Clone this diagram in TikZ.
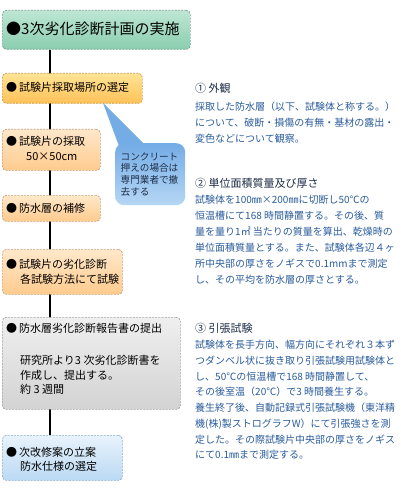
\documentclass[tikz,border=0pt]{standalone}
\usepackage{fontspec}
\setmainfont{Noto Sans CJK JP}
\usetikzlibrary{backgrounds}
\definecolor{gT}{HTML}{BEE7D3}
\definecolor{gB}{HTML}{8ACDAF}
\definecolor{gD}{HTML}{7AA594}
\definecolor{yT}{HTML}{FFE394}
\definecolor{yB}{HTML}{FFC258}
\definecolor{yD}{HTML}{C79E4E}
\definecolor{pT}{HTML}{FFE8CA}
\definecolor{pB}{HTML}{FFCB8E}
\definecolor{pD}{HTML}{C6A07A}
\definecolor{sT}{HTML}{EFEFEF}
\definecolor{sB}{HTML}{D3D3D3}
\definecolor{sD}{HTML}{A2A2A2}
\definecolor{bT}{HTML}{E8F3FC}
\definecolor{bB}{HTML}{BAD9F3}
\definecolor{bD}{HTML}{8EAAC8}
\definecolor{cT}{HTML}{74ACE6}
\definecolor{cB}{HTML}{B6D7F4}
\definecolor{hd}{HTML}{1E2E48}
\definecolor{bd}{HTML}{2B5C9C}
\begin{document}
\begin{tikzpicture}[x=1bp,y=-1bp,
  box/.style={draw=#1, dash pattern=on 2bp off 1.2bp, line width=0.7bp,
    rounded corners=4bp, anchor=north west, inner sep=0pt},
  lt/.style={anchor=base west, inner sep=0pt, font=\fontsize{11bp}{13bp}\selectfont},
  ct/.style={anchor=base west, inner sep=0pt, text=hd, font=\fontsize{9.6bp}{11bp}\selectfont},
  rh/.style={anchor=base west, inner sep=0pt, text=hd, font=\fontsize{11bp}{13bp}\selectfont},
  rb/.style={anchor=base west, inner sep=0pt, text=bd, font=\fontsize{10bp}{12bp}\selectfont}]
\useasboundingbox (0,0) rectangle (400,490);

% boxes
\node[box=gD, top color=gT, bottom color=gB, minimum width=188bp, minimum height=39bp] (t) at (2,10) {};
\node[box=yD, top color=yT, bottom color=yB, minimum width=140bp, minimum height=30bp] (b1) at (2,73) {};
\node[box=pD, top color=pT, bottom color=pB, minimum width=98bp, minimum height=41bp] (b2) at (2,129) {};
\node[box=pD, top color=pT, bottom color=pB, minimum width=98bp, minimum height=26bp] (b3) at (2,195) {};
\node[box=pD, top color=pT, bottom color=pB, minimum width=120bp, minimum height=45bp] (b4) at (2,249) {};
\node[box=sD, top color=sT, bottom color=sB, minimum width=178bp, minimum height=92bp] (b5) at (2,317) {};
\node[box=bD, top color=bT, bottom color=bB, minimum width=120bp, minimum height=45bp] (b6) at (2,435) {};

% background and vertical connector
\coordinate (lx) at (50,0);
\begin{scope}[on background layer]
\fill[white] (0,0) rectangle (400,490);
\draw[line width=2bp] (t.south -| lx) -- (b6.north -| lx);
\end{scope}

% callout
\fill[cT] (103,103) -- (119,146) -- (146,146) -- cycle;
\node[anchor=north west, inner sep=0pt, rounded corners=9bp, top color=cT, bottom color=cB,
  minimum width=70bp, minimum height=62bp] (c) at (115,143) {};
\node[ct] (c1) at (120.5,160.1) {コンクリート};
\node[ct] (c2) at (120.5,171.7) {押えの場合は};
\node[ct] (c3) at (120.5,183.4) {専門業者で撤};
\node[ct] (c4) at (120.5,195.1) {去する};

% left texts
\node[anchor=base west, inner sep=0pt, font=\fontsize{15bp}{17bp}\selectfont] (tt) at (6,35) {●3次劣化診断計画の実施};
\node[lt] (l1) at (6,92) {●\,試験片採取場所の選定};
\node[lt] (l2) at (6,146) {●\,試験片の採取};
\node[lt] (l2b) at (26,161) {50×50cm};
\node[lt] (l3) at (6,212) {●\,防水層の補修};
\node[lt] (l4) at (6,268) {●\,試験片の劣化診断};
\node[lt] (l4b) at (20,283) {各試験方法にて試験};
\node[lt] (l5) at (6,332) {●\,防水層劣化診断報告書の提出};
\node[lt] (l5a) at (20,364) {研究所より3 次劣化診断書を};
\node[lt] (l5b) at (20,379) {作成し、提出する。};
\node[lt] (l5c) at (20,393) {約 3 週間};
\node[lt] (l6) at (6,456) {●\,次改修案の立案};
\node[lt] (l6b) at (20,470) {防水仕様の選定};

% right column
\node[rh] (h1) at (195,92.5) {① 外観};
\foreach \s [count=\i] in {{採取した防水層（以下、試験体と称する。）},
  {について、破断・損傷の有無・基材の露出・},
  {変色などについて観察。}}
  \node[rb] (r1-\i) at (195,{94.5+16*\i}) {\s};
\node[rh] (h2) at (195,187.5) {② 単位面積質量及び厚さ};
\foreach \s [count=\i] in {{試験体を100㎜×200㎜に切断し50℃の},
  {恒温槽にて168 時間静置する。その後、質},
  {量を量り1㎡ 当たりの質量を算出、乾燥時の},
  {単位面積質量とする。また、試験体各辺４ヶ},
  {所中央部の厚さをノギスで0.1mmまで測定},
  {し、その平均を防水層の厚さとする。}}
  \node[rb] (r2-\i) at (195,{187.8+16*\i}) {\s};
\node[rh] (h3) at (195,332.5) {③ 引張試験};
\foreach \s [count=\i] in {{試験体を長手方向、幅方向にそれぞれ３本ず},
  {つダンベル状に抜き取り引張試験用試験体と},
  {し、50℃の恒温槽で168 時間静置して、},
  {その後室温（20℃）で3 時間養生する。},
  {養生終了後、自動記録式引張試験機（東洋精},
  {機(株)製ストログラフW）にて引張強さを測},
  {定した。その際試験片中央部の厚さをノギス},
  {にて0.1㎜まで測定する。}}
  \node[rb] (r3-\i) at (195,{333.1+15.7*\i}) {\s};
\end{tikzpicture}
\end{document}
